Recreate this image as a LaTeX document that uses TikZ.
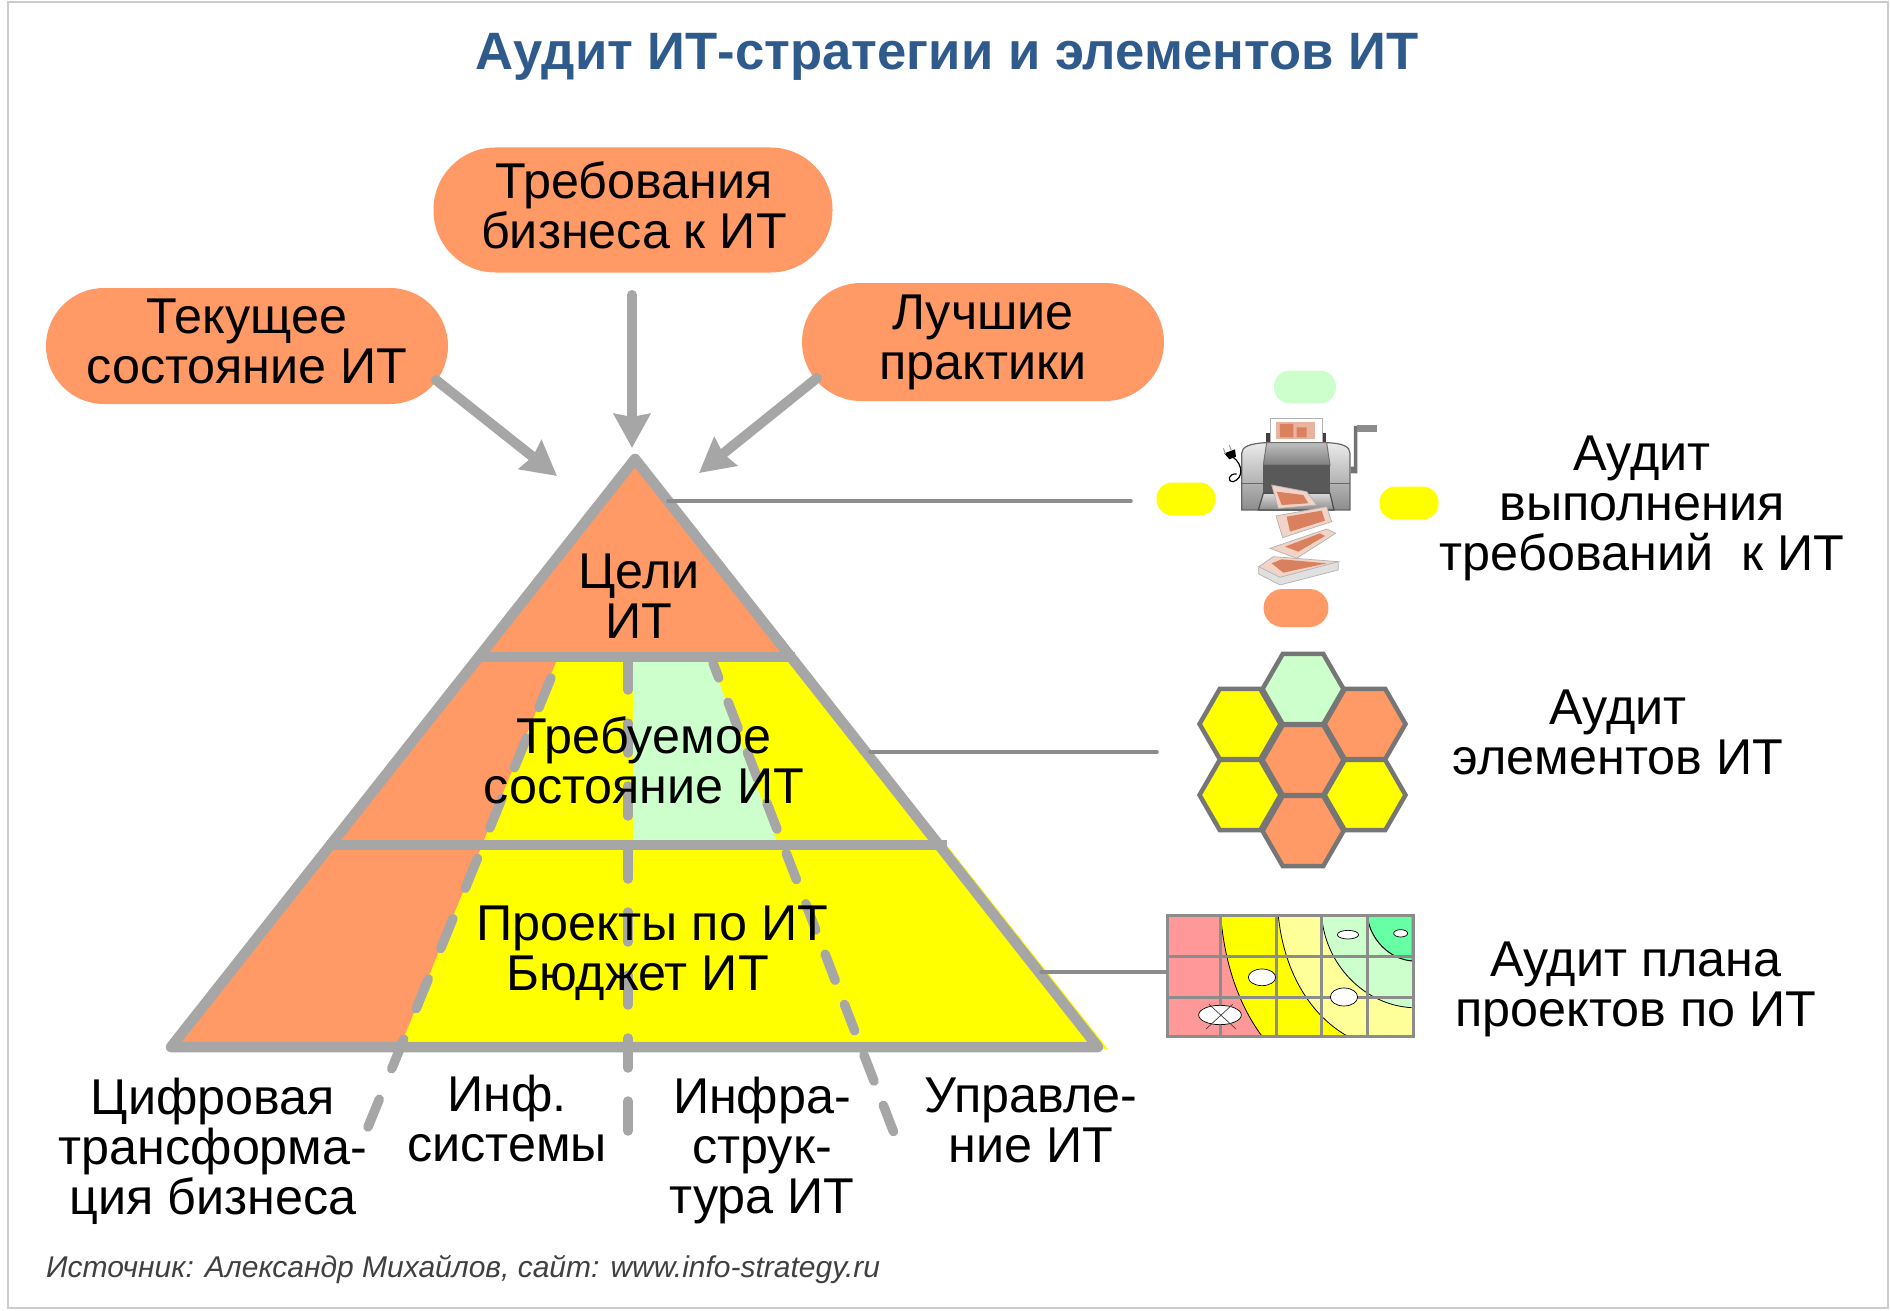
\documentclass[tikz,border=0pt]{standalone}
\usepackage{fontspec}
\setmainfont{Liberation Sans}
\usetikzlibrary{arrows.meta,shapes.geometric}
\definecolor{pillorange}{HTML}{FF9966}
\definecolor{palegreen}{HTML}{CCFFCC}
\definecolor{fullyellow}{HTML}{FFFF00}
\definecolor{midgray}{HTML}{A6A6A6}
\definecolor{hexgray}{HTML}{767676}
\definecolor{gridgray}{HTML}{8C8C8C}
\definecolor{titleblue}{HTML}{2E5A8C}
\definecolor{billred}{HTML}{D9805F}
\tikzset{
  bigtext/.style={font=\fontsize{50.3}{50}\selectfont,align=center,text=black},
  pill/.style={fill=pillorange,rounded corners=#1,inner sep=0pt},
  tag/.style={fill=#1,rounded corners=16pt,inner sep=0pt,minimum height=33pt,minimum width=59pt},
  feed/.style={draw=midgray,line width=10pt,line cap=round,-{Stealth[length=34pt,width=36pt,inset=3pt]}},
  level/.style={draw=midgray,line width=10.5pt},
  column/.style={draw=midgray,line width=9.5pt,line cap=round},
  leader/.style={draw=gridgray,line width=3.5pt,line cap=round},
  hexcell/.style={regular polygon,regular polygon sides=6,draw=hexgray,line width=4.5pt,minimum size=81pt,inner sep=0pt,fill=#1},
  planspot/.style={draw=black,line width=.7pt,fill=white},
  bill/.style={draw=black!30,fill=billred!35!white,line width=.7pt},
  billface/.style={fill=billred},
}
\begin{document}
\begin{tikzpicture}[x=1pt,y=-1pt]
  \useasboundingbox (0,0) rectangle (1890,1311);
  \fill[white] (0,0) rectangle (1890,1311);
  \draw[line width=2pt,black!20] (8,2) rectangle (1888,1308);
  \node (title) at (947,57) {\fontsize{52.6}{54}\bfseries\selectfont\color{titleblue}Аудит ИТ-стратегии и элементов ИТ};

  % pyramid fills
  \fill[fullyellow] (329,845) -- (945,843) -- (1108,1049) -- (171,1047) -- cycle;
  \fill[fullyellow] (477,657) -- (792,657) -- (945,845) -- (329,845) -- cycle;
  \fill[pillorange] (635,459) -- (792,657) -- (477,657) -- cycle;
  \fill[pillorange] (477,657) -- (558,657) -- (482,845) -- (329,845) -- cycle;
  \fill[pillorange] (329,845) -- (482,845) -- (400,1047) -- (171,1047) -- cycle;
  \fill[palegreen] (633,657) -- (710,657) -- (778,845) -- (633,845) -- cycle;
  % columns
  \draw[column,dash pattern=on 32pt off 33pt] (551,678) -- (368,1127);
  \draw[column,dash pattern=on 30pt off 33pt] (628,660) -- (628,1140);
  \draw[column,dash pattern=on 28pt off 26pt,dash phase=12pt] (713,663) -- (894,1133);
  % pyramid outline
  \draw[level,line join=round] (171,1047) -- (635,459) -- (1098,1047) -- cycle;
  \draw[level] (478,657) -- (795,657);
  \draw[level] (327,845) -- (947,845);

  \node[bigtext] (goals) at (639,596) {Цели\\ИТ};
  \node[bigtext] (target) at (644,760) {Требуемое\\состояние ИТ};
  \node[bigtext] (projects) at (652,953) {Проекты по ИТ\\Бюджет ИТ\hspace*{29pt}};

  \node[pill=62pt,minimum width=399pt,minimum height=125pt] (bizreq) at (633,210) {};
  \node[pill=58pt,minimum width=402pt,minimum height=116pt] (current) at (247,346) {};
  \node[pill=59pt,minimum width=362pt,minimum height=118pt] (best) at (983,342) {};
  \node[bigtext] (bizreqtext) at (634,205) {Требования\\бизнеса к ИТ};
  \node[bigtext] (currenttext) at (247,341) {Текущее\\состояние ИТ};
  \node[bigtext] (besttext) at (983,342) {Лучшие\\практики};
  \coordinate (topin) at (632,448);
  \coordinate (leftin) at (557,476);
  \coordinate (rightin) at (699,473);
  \draw[feed] (632,295) -- (topin);
  \draw[feed] (current) ++(189,34) -- (leftin);
  \draw[feed] (best) ++(-166,36) -- (rightin);

  \node[bigtext] (bottomA) at (213,1151) {Цифровая\\трансформа-\\ция бизнеса};
  \node[bigtext] (bottomB) at (507,1119) {Инф.\\системы};
  \node[bigtext] (bottomC) at (762,1150) {Инфра-\\струк-\\тура ИТ};
  \node[bigtext] (bottomD) at (1031,1120) {Управле-\\ние ИТ};

  \node[bigtext] (auditA) at (1642,508) {Аудит\\выполнения\\требований\ \ к ИТ};
  \node[bigtext] (auditB) at (1618,732) {Аудит\\элементов ИТ};
  \node[bigtext] (auditC) at (1636,989) {Аудит плана\\проектов по ИТ};

  \coordinate (apexright) at (668,501);
  \coordinate (midright) at (870,752);
  \coordinate (lowright) at (1041,972);
  \coordinate (printerleft) at (1131,501);
  \coordinate (hexleft) at (1157,752);
  \coordinate (planleft) at (1167,972);
  \draw[leader] (apexright) -- (printerleft);
  \draw[leader] (midright) -- (hexleft);
  \draw[leader] (lowright) -- (planleft);

  \node[tag=palegreen,minimum width=62pt] (tagA) at (1305,387) {};
  \node[tag=fullyellow] (tagB) at (1186,499) {};
  \node[tag=fullyellow] (tagC) at (1409,503) {};
  \node[tag=pillorange,minimum width=65pt,minimum height=38pt,rounded corners=19pt] (tagD) at (1296,608) {};

  % printer
  \begin{scope}[shift={(1130,350)},x=.3333pt,y=-.3333pt]
    \fill[black!75] (408,250) rectangle (588,300);
    \draw[black!30,fill=white,line width=1pt] (420,205) rectangle (577,280);
    \fill[billred!60!white] (437,217) rectangle (556,268);
    \fill[billred] (450,222) rectangle (490,262) (500,232) rectangle (530,262);
    \draw[black!60,line width=1.2pt,top color=black!8,bottom color=black!45] (335,480) -- (335,310) .. controls (335,290) and (360,280) .. (410,278) -- (590,278) .. controls (640,280) and (660,290) .. (660,310) -- (660,480) -- cycle;
    \draw[black!55,line width=1pt,top color=black!25,bottom color=black!50] (410,278) -- (590,278) -- (600,345) -- (400,345) -- cycle;
    \fill[black!65] (400,345) rectangle (600,430);
    \draw[black!70,line width=1.2pt,top color=black!15,bottom color=black!45] (400,430) -- (600,430) -- (612,480) -- (385,480) -- cycle;
    \draw[black!60,line width=1.5pt] (335,400) -- (400,400) (600,400) -- (660,400);
    \fill[black!55] (662,350) -- (672,350) -- (672,228) -- (682,228) -- (682,370) -- (662,370) -- cycle;
    \fill[black!45] (682,224) rectangle (742,246);
    \fill[black] (283,310) -- (315,298) -- (318,320) -- (298,328) -- cycle;
    \draw[black!40,line width=1pt] (280,295) -- (287,312) (298,285) -- (304,302);
    \draw[black,line width=1.2pt] (310,322) .. controls (340,345) and (340,385) .. (310,395) .. controls (290,395) and (295,370) .. (320,372);
    % falling notes
    \draw[bill] (425,405) -- (530,425) -- (560,465) -- (445,475) -- cycle;
    \fill[billface] (440,425) -- (520,435) -- (535,460) -- (455,465) -- cycle;
    \draw[bill] (438,498) -- (590,470) -- (605,515) -- (458,563) -- cycle;
    \fill[billface] (470,500) -- (575,482) -- (585,512) -- (480,545) -- cycle;
    \draw[bill] (420,595) -- (590,537) -- (617,550) -- (500,625) -- cycle;
    \fill[billface] (465,590) -- (570,550) -- (585,558) -- (505,605) -- cycle;
    \draw[black!30,fill=black!12,line width=.7pt] (386,650) -- (386,672) -- (450,705) -- (625,660) -- (625,635) -- cycle;
    \draw[bill] (386,650) -- (430,620) -- (625,635) -- (450,682) -- cycle;
    \fill[billface] (425,640) -- (455,628) -- (590,640) -- (460,668) -- cycle;
  \end{scope}

  % hexagons
  \begin{scope}[shift={(1170,640)}]
    \node[hexcell=palegreen] (hexA) at (133,49) {};
    \node[hexcell=fullyellow] (hexB) at (70,84) {};
    \node[hexcell=fullyellow] (hexC) at (70,155) {};
    \node[hexcell=pillorange] (hexD) at (195,84) {};
    \node[hexcell=fullyellow] (hexE) at (195,155) {};
    \node[hexcell=pillorange] (hexF) at (133,120) {};
    \node[hexcell=pillorange] (hexG) at (133,191) {};
  \end{scope}

  % plan matrix
  \begin{scope}[shift={(1150,890)},x=.3333pt,y=-.3333pt]
    \fill[red!40!white] (53,77) rectangle (790,440);
    \fill[fullyellow] (212,77) .. controls (225,230) and (270,350) .. (337,440) -- (790,440) -- (790,77) -- cycle;
    \fill[fullyellow!40!white] (385,77) .. controls (400,230) and (470,370) .. (595,440) -- (790,440) -- (790,77) -- cycle;
    \fill[palegreen] (515,77) .. controls (525,220) and (640,345) .. (785,353) -- (790,77) -- cycle;
    \fill[green!60!cyan!60!white] (652,77) .. controls (660,150) and (720,208) .. (787,213) -- (787,77) -- cycle;
    \draw[black,line width=.8pt] (212,77) .. controls (225,230) and (270,350) .. (337,440);
    \draw[black,line width=.8pt] (385,77) .. controls (400,230) and (470,370) .. (595,440);
    \draw[black,line width=.8pt] (515,77) .. controls (525,220) and (640,345) .. (785,353);
    \draw[black,line width=1pt] (652,77) .. controls (660,150) and (720,208) .. (787,213) -- (787,77) -- cycle;
    \draw[gridgray,line width=3pt] (53,77) rectangle (790,440);
    \foreach \gx in {210,380,515,652} \draw[gridgray,line width=3pt] (\gx,77) -- (\gx,440);
    \foreach \gy in {199,323} \draw[gridgray,line width=3pt] (53,\gy) -- (790,\gy);
    \draw[planspot] (594,134) ellipse [x radius=32,y radius=13];
    \draw[planspot] (752,130) ellipse [x radius=21,y radius=11];
    \draw[planspot] (336,262) ellipse [x radius=41,y radius=25];
    \draw[planspot] (582,321) ellipse [x radius=41,y radius=27];
    \draw[planspot] (210,375) ellipse [x radius=64,y radius=29];
    \draw[black!75,line width=.7pt] (177,343) -- (258,417) (248,343) -- (168,417);
  \end{scope}

  \node[anchor=west,inner sep=0pt,font=\fontsize{30}{32}\itshape\selectfont,text=black!75] (source) at (46,1270) {Источник: Александр Михайлов, сайт: www.info-strategy.ru};
\end{tikzpicture}
\end{document}
